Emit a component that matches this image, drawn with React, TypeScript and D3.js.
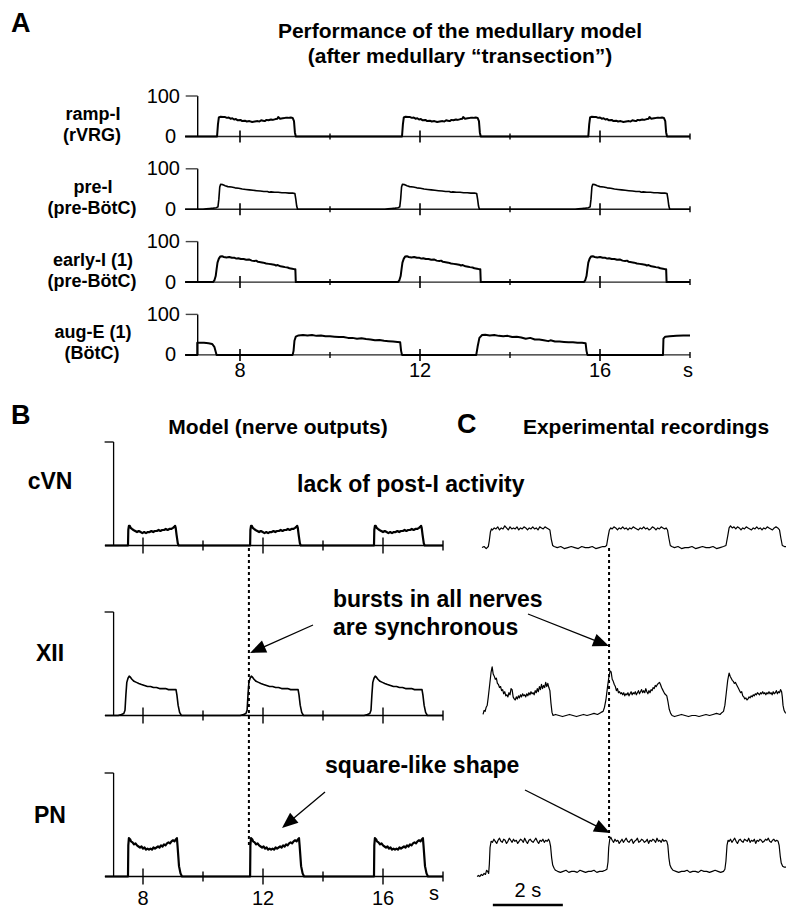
import React from "react";
import * as d3 from "d3";

type P = [number, number];

// ---------------- Panel A data ----------------
const panelATitle = ["Performance of the medullary model", "(after medullary \u201Ctransection\u201D)"];
const panelARowNames = [
  ["ramp-I", "(rVRG)"],
  ["pre-I", "(pre-BötC)"],
  ["early-I (1)", "(pre-BötC)"],
  ["aug-E (1)", "(BötC)"],
];
const panelAYTicks = [0, 100];
const panelAMajorTicks = [8, 12, 16];
const panelAMinorTicks = [10, 14, 18];
const timeUnit = "s";

const rampIOnsets = [7.49, 11.6, 15.74];
const rampIShape: P[] = [
  [0, 0], [0.02, 30], [0.04, 47], [0.08, 49], [0.13, 48], [0.18, 48], [0.22, 46], [0.26, 47], [0.3, 44],
  [0.34, 45], [0.38, 42], [0.42, 43], [0.46, 40], [0.52, 41], [0.56, 38], [0.62, 39], [0.66, 37],
  [0.72, 38], [0.78, 36], [0.84, 37], [0.9, 38], [0.94, 37], [0.98, 40], [1.02, 39], [1.06, 38],
  [1.1, 41], [1.14, 40], [1.2, 42], [1.24, 41], [1.3, 43], [1.34, 44], [1.36, 48], [1.4, 44],
  [1.46, 45], [1.52, 46], [1.58, 46], [1.64, 47], [1.68, 46], [1.71, 38], [1.73, 10], [1.75, 0],
];
const preIOnsets = [7.53, 11.57, 15.8];
const preIShape: P[] = [
  [-0.35, 0], [-0.28, 1], [-0.2, 2], [-0.12, 3], [-0.06, 4], [-0.02, 6], [0, 25], [0.02, 55], [0.04, 62],
  [0.08, 61], [0.14, 58], [0.2, 56], [0.28, 55], [0.36, 53], [0.44, 52], [0.52, 50], [0.6, 49],
  [0.68, 48], [0.76, 47], [0.84, 46], [0.92, 45], [1.0, 44], [1.08, 44], [1.12, 42], [1.16, 43],
  [1.24, 42], [1.32, 42], [1.4, 41], [1.48, 41], [1.56, 40], [1.64, 40], [1.69, 39], [1.71, 25],
  [1.73, 8], [1.75, 0],
];
const earlyIOnsets = [7.4, 11.51, 15.64];
const earlyIShape: P[] = [
  [0, 0], [0.03, 4], [0.06, 15], [0.08, 32], [0.1, 48], [0.13, 58], [0.16, 63], [0.2, 64], [0.24, 62],
  [0.3, 61], [0.36, 62], [0.42, 60], [0.48, 60], [0.52, 58], [0.56, 59], [0.62, 57], [0.68, 57],
  [0.74, 55], [0.8, 56], [0.86, 53], [0.92, 52], [0.96, 53], [1.0, 50], [1.06, 49], [1.12, 48],
  [1.18, 46], [1.24, 45], [1.3, 44], [1.36, 43], [1.4, 41], [1.44, 42], [1.5, 39], [1.56, 38],
  [1.6, 37], [1.66, 36], [1.7, 34], [1.76, 33], [1.8, 32], [1.83, 32], [1.84, 0],
];
const augETrace: P[] = [
  [6.78, 0], [7.05, 0], [7.05, 30], [7.2, 30], [7.3, 29], [7.38, 27], [7.43, 20], [7.46, 8], [7.48, 0],
  [9.17, 0], [9.19, 10], [9.21, 35], [9.24, 45], [9.3, 48], [9.4, 49], [9.5, 48], [9.6, 49], [9.7, 47],
  [9.8, 48], [9.9, 46], [10.0, 46], [10.1, 45], [10.2, 44], [10.3, 44], [10.4, 42], [10.5, 42],
  [10.6, 40], [10.7, 41], [10.8, 39], [10.9, 38], [11.0, 36], [11.1, 37], [11.2, 35], [11.3, 34],
  [11.4, 33], [11.5, 32], [11.56, 31], [11.58, 10], [11.6, 0],
  [13.25, 0], [13.28, 20], [13.32, 42], [13.38, 49], [13.45, 50], [13.55, 48], [13.65, 49], [13.75, 47],
  [13.85, 46], [13.95, 47], [14.05, 44], [14.15, 45], [14.25, 43], [14.35, 40], [14.45, 42], [14.55, 38],
  [14.65, 38], [14.75, 36], [14.85, 34], [14.9, 36], [15.0, 33], [15.1, 33], [15.2, 32], [15.3, 31],
  [15.4, 31], [15.5, 30], [15.6, 30], [15.68, 29], [15.7, 10], [15.72, 0],
  [17.4, 0], [17.41, 40], [17.45, 45], [17.55, 46], [17.7, 47], [17.85, 48], [18.0, 48],
];

// ---------------- Panel B data ----------------
const panelBRowNames = ["cVN", "XII", "PN"];
const panelBMajorTicks = [8, 12, 16];
const panelBMinorTicks = [10, 14, 18];
const modelOnsets = [7.5, 11.57, 15.7];
const cvnShape: P[] = [
  [0, 0], [0.01, 15], [0.03, 19], [0.06, 19], [0.09, 17], [0.13, 16], [0.18, 15], [0.24, 14], [0.3, 13],
  [0.36, 14], [0.42, 13], [0.48, 12], [0.54, 13], [0.6, 12], [0.66, 13], [0.72, 13], [0.78, 14],
  [0.84, 13], [0.9, 14], [0.96, 14], [1.02, 15], [1.08, 14], [1.14, 15], [1.2, 15], [1.26, 16],
  [1.32, 15], [1.38, 16], [1.44, 16], [1.5, 17], [1.54, 18], [1.57, 19], [1.59, 17], [1.62, 10],
  [1.66, 2], [1.69, 0],
];
const xiiShape: P[] = [
  [-0.33, 0], [-0.22, 1], [-0.14, 2], [-0.1, 5], [-0.07, 20], [-0.04, 32], [0, 36], [0.04, 38],
  [0.08, 37], [0.13, 35], [0.2, 33], [0.28, 32], [0.36, 31], [0.45, 30], [0.55, 29], [0.65, 28],
  [0.75, 28], [0.85, 27], [0.95, 27], [1.05, 26], [1.15, 26], [1.25, 26], [1.35, 25], [1.45, 25],
  [1.55, 25], [1.6, 25], [1.63, 20], [1.67, 10], [1.72, 3], [1.78, 0],
];
const pnShape: P[] = [
  [0, 0], [0.01, 30], [0.03, 37], [0.07, 36], [0.1, 34], [0.15, 33], [0.2, 31], [0.25, 32], [0.3, 30],
  [0.35, 29], [0.4, 28], [0.45, 29], [0.5, 27], [0.55, 28], [0.6, 26], [0.65, 27], [0.7, 26],
  [0.75, 27], [0.8, 26], [0.85, 28], [0.9, 27], [0.95, 28], [1.0, 29], [1.05, 28], [1.1, 30],
  [1.15, 29], [1.2, 31], [1.25, 30], [1.3, 32], [1.35, 33], [1.4, 32], [1.45, 34], [1.5, 35],
  [1.55, 34], [1.6, 36], [1.63, 37], [1.65, 30], [1.7, 10], [1.75, 3], [1.8, 0],
];

// ---------------- Panel C data (experimental recordings, seconds) ----------------
const cvnRecording: P[] = [
  [0, -2], [0.06, -1], [0.12, -3], [0.18, -1], [0.21, 5], [0.24, 13], [0.27, 16],
  [0.3, 15], [0.35, 17], [0.4, 16], [0.45, 18], [0.5, 15], [0.55, 17], [0.6, 16], [0.65, 19], [0.7, 17],
  [0.75, 15], [0.8, 18], [0.85, 16], [0.9, 17], [0.95, 16], [1.0, 18], [1.05, 15], [1.1, 17], [1.15, 16],
  [1.2, 18], [1.25, 17], [1.3, 15], [1.35, 17], [1.4, 16], [1.45, 18], [1.5, 16], [1.55, 17], [1.6, 15],
  [1.65, 18], [1.7, 17], [1.75, 16], [1.8, 18], [1.85, 17], [1.9, 16],
  [1.94, 15], [1.98, 6], [2.02, 0], [2.06, -1],
  [2.15, -2], [2.25, -1], [2.35, -3], [2.45, -2], [2.55, -1], [2.65, -2], [2.75, -3], [2.85, -1],
  [2.95, -2], [3.05, -2], [3.15, -1], [3.25, -3], [3.35, -2], [3.45, -1], [3.52, -1],
  [3.56, 0], [3.6, 8], [3.64, 15], [3.68, 17],
  [3.72, 16], [3.77, 18], [3.82, 17], [3.87, 15], [3.92, 17], [3.97, 16], [4.02, 18], [4.07, 16],
  [4.12, 17], [4.17, 15], [4.22, 17], [4.27, 16], [4.32, 18], [4.37, 17], [4.42, 16], [4.47, 15],
  [4.52, 17], [4.57, 16], [4.62, 18], [4.67, 16], [4.72, 17], [4.77, 15], [4.82, 16], [4.87, 18],
  [4.92, 17], [4.97, 15], [5.02, 17], [5.07, 16], [5.12, 18], [5.17, 17], [5.22, 16], [5.26, 17],
  [5.3, 15], [5.34, 7], [5.38, 0], [5.42, -1],
  [5.5, -2], [5.6, -1], [5.7, -3], [5.8, -2], [5.9, -2], [6.0, -1], [6.1, -3], [6.2, -2], [6.3, -1],
  [6.4, -2], [6.5, -2], [6.6, -1], [6.7, -3], [6.8, -2], [6.9, -1],
  [6.97, 0], [7.02, 9], [7.06, 17], [7.1, 19],
  [7.15, 17], [7.2, 18], [7.25, 16], [7.3, 18], [7.35, 17], [7.4, 15], [7.45, 17], [7.5, 16], [7.55, 18],
  [7.6, 17], [7.65, 16], [7.7, 15], [7.75, 17], [7.8, 16], [7.85, 18], [7.9, 16], [7.95, 17], [8.0, 15],
  [8.05, 17], [8.1, 16], [8.15, 18], [8.2, 17], [8.25, 16], [8.3, 15], [8.35, 17], [8.4, 18], [8.45, 17],
  [8.5, 15], [8.54, 7], [8.58, 0], [8.64, -1], [8.69, -1],
];
const xiiRecording: P[] = [
  [0.03, 1], [0.06, 5], [0.09, 4], [0.12, 8], [0.15, 10], [0.18, 18], [0.22, 30], [0.26, 42], [0.29, 47],
  [0.32, 40], [0.35, 38], [0.38, 35], [0.41, 36], [0.44, 31], [0.47, 30], [0.5, 27], [0.53, 28],
  [0.56, 24], [0.59, 25], [0.62, 21], [0.65, 23], [0.68, 19], [0.71, 20], [0.74, 18], [0.77, 22],
  [0.8, 20], [0.83, 26], [0.86, 25], [0.89, 18], [0.92, 16], [0.95, 15], [0.98, 18], [1.01, 16],
  [1.04, 19], [1.07, 17], [1.1, 20], [1.13, 18], [1.16, 21], [1.19, 19], [1.22, 20], [1.25, 18],
  [1.28, 21], [1.31, 19], [1.34, 22], [1.37, 20], [1.4, 23], [1.43, 21], [1.46, 22], [1.49, 20],
  [1.52, 24], [1.55, 22], [1.58, 26], [1.61, 23], [1.64, 28], [1.67, 25], [1.7, 30], [1.73, 26],
  [1.76, 29], [1.79, 27], [1.82, 32], [1.85, 28], [1.88, 31], [1.91, 27], [1.94, 24], [1.97, 12],
  [2.0, 3], [2.03, 0], [2.1, 1], [2.2, 0], [2.3, -1], [2.4, 0], [2.5, 1], [2.6, 0], [2.7, -1], [2.8, 0],
  [2.9, 1], [3.0, 0], [3.1, 1], [3.2, 2], [3.3, 1], [3.4, 3], [3.46, 4], [3.5, 8], [3.54, 15],
  [3.58, 26], [3.62, 36], [3.66, 43], [3.69, 42], [3.72, 35], [3.75, 33], [3.78, 30], [3.81, 28],
  [3.84, 24], [3.87, 26], [3.9, 22], [3.93, 23], [3.96, 21], [3.99, 22], [4.02, 20], [4.05, 22],
  [4.08, 19], [4.11, 21], [4.14, 20], [4.17, 22], [4.2, 19], [4.23, 21], [4.26, 23], [4.29, 20],
  [4.32, 22], [4.35, 21], [4.38, 23], [4.41, 20], [4.44, 22], [4.47, 24], [4.5, 21], [4.53, 23],
  [4.56, 25], [4.59, 22], [4.62, 24], [4.65, 22], [4.68, 26], [4.71, 23], [4.74, 21], [4.77, 24],
  [4.8, 22], [4.83, 25], [4.86, 24], [4.89, 27], [4.92, 26], [4.95, 29], [4.98, 28], [5.01, 30],
  [5.04, 31], [5.07, 32], [5.1, 30], [5.13, 27], [5.16, 25], [5.19, 23], [5.22, 21], [5.25, 20],
  [5.28, 19], [5.31, 14], [5.35, 6], [5.39, 2], [5.43, 0], [5.5, -1], [5.6, 0], [5.7, 1], [5.8, 0],
  [5.9, -1], [6.0, 0], [6.1, 0], [6.2, -1], [6.3, 0], [6.4, 1], [6.5, 0], [6.6, 1], [6.7, 2], [6.8, 1],
  [6.86, 3], [6.9, 4], [6.94, 10], [6.98, 22], [7.02, 34], [7.06, 41], [7.09, 38], [7.12, 36],
  [7.15, 34], [7.18, 33], [7.21, 31], [7.24, 32], [7.27, 30], [7.3, 28], [7.33, 26], [7.36, 24],
  [7.39, 22], [7.42, 23], [7.45, 19], [7.48, 18], [7.51, 16], [7.54, 17], [7.57, 15], [7.6, 16],
  [7.63, 18], [7.66, 17], [7.69, 19], [7.72, 18], [7.75, 20], [7.78, 19], [7.81, 21], [7.84, 20],
  [7.87, 22], [7.9, 21], [7.93, 20], [7.96, 22], [7.99, 21], [8.02, 23], [8.05, 21], [8.08, 22],
  [8.11, 20], [8.14, 22], [8.17, 21], [8.2, 23], [8.23, 21], [8.26, 22], [8.29, 20], [8.32, 23],
  [8.35, 21], [8.38, 22], [8.41, 24], [8.44, 21], [8.47, 23], [8.5, 22], [8.53, 25], [8.56, 23],
  [8.58, 18], [8.6, 10], [8.63, 5], [8.66, 3], [8.69, 2],
];
const pnRecording: P[] = [
  [-0.14, 0], [-0.1, 1], [-0.06, 0], [-0.02, 2], [0.02, 1], [0.06, 3], [0.1, 2], [0.13, 6], [0.16, 5],
  [0.19, 3], [0.21, 12], [0.23, 28], [0.26, 34],
  [0.3, 33], [0.34, 36], [0.38, 34], [0.42, 32], [0.46, 35], [0.5, 37], [0.54, 34], [0.58, 33], [0.62, 36],
  [0.66, 35], [0.7, 32], [0.74, 34], [0.78, 37], [0.82, 35], [0.86, 33], [0.9, 36], [0.94, 34], [0.98, 35],
  [1.02, 32], [1.06, 34], [1.1, 36], [1.14, 35], [1.18, 33], [1.22, 37], [1.26, 34], [1.3, 32], [1.34, 35],
  [1.38, 36], [1.42, 34], [1.46, 33], [1.5, 35], [1.54, 37], [1.58, 34], [1.62, 32], [1.66, 35], [1.7, 34],
  [1.74, 36], [1.78, 33], [1.82, 35], [1.86, 34], [1.9, 36], [1.93, 34],
  [1.96, 29], [1.99, 18], [2.02, 11], [2.06, 8], [2.1, 6], [2.16, 5],
  [2.24, 4], [2.32, 5], [2.4, 6], [2.48, 4], [2.56, 5], [2.64, 5], [2.72, 4], [2.8, 6], [2.88, 5],
  [2.96, 4], [3.04, 5], [3.12, 5], [3.2, 6], [3.28, 4], [3.36, 5], [3.44, 5], [3.52, 6],
  [3.57, 7], [3.6, 14], [3.62, 28], [3.65, 36],
  [3.68, 38], [3.72, 35], [3.76, 33], [3.8, 36], [3.84, 34], [3.88, 35], [3.92, 32], [3.96, 34], [4.0, 36],
  [4.04, 33], [4.08, 35], [4.12, 37], [4.16, 34], [4.2, 33], [4.24, 35], [4.28, 36], [4.32, 32], [4.36, 34],
  [4.4, 35], [4.44, 37], [4.48, 33], [4.52, 34], [4.56, 36], [4.6, 35], [4.64, 33], [4.68, 34], [4.72, 36],
  [4.76, 32], [4.8, 35], [4.84, 34], [4.88, 36], [4.92, 35], [4.96, 33], [5.0, 37], [5.04, 34], [5.08, 35],
  [5.12, 33], [5.16, 36], [5.2, 34], [5.24, 35], [5.28, 34],
  [5.31, 30], [5.34, 18], [5.37, 11], [5.41, 8], [5.46, 6],
  [5.54, 5], [5.62, 4], [5.7, 5], [5.78, 5], [5.86, 6], [5.94, 4], [6.02, 5], [6.1, 5], [6.18, 4],
  [6.26, 6], [6.34, 5], [6.42, 5], [6.5, 4], [6.58, 5], [6.66, 6], [6.74, 5], [6.82, 4], [6.9, 5],
  [6.94, 7], [6.97, 15], [7.0, 30], [7.03, 35],
  [7.06, 34], [7.1, 36], [7.14, 33], [7.18, 35], [7.22, 37], [7.26, 34], [7.3, 32], [7.34, 35], [7.38, 36],
  [7.42, 34], [7.46, 33], [7.5, 36], [7.54, 35], [7.58, 34], [7.62, 37], [7.66, 33], [7.7, 35], [7.74, 34],
  [7.78, 36], [7.82, 32], [7.86, 35], [7.9, 34], [7.94, 36], [7.98, 35], [8.02, 33], [8.06, 34], [8.1, 36],
  [8.14, 35], [8.18, 37], [8.22, 34], [8.26, 33], [8.3, 35], [8.34, 36], [8.38, 34], [8.42, 35], [8.46, 34],
  [8.49, 30], [8.52, 20], [8.55, 13], [8.59, 10], [8.64, 9], [8.69, 9],
];
const scaleBarSeconds = 2;
const syncTimeModel = 11.53;
const syncTimeRecording = 3.63;

const annotations = {
  lack: "lack of post-I activity",
  sync1: "bursts in all nerves",
  sync2: "are synchronous",
  square: "square-like shape",
};

// ---------------- helpers ----------------
const FONT = "'Liberation Sans', Arial, Helvetica, sans-serif";

function fromTemplate(onsets: number[], shape: P[], t0: number, t1: number): P[] {
  const pts: P[] = [[t0, 0]];
  onsets.forEach((o) => shape.forEach(([dt, v]) => pts.push([o + dt, v])));
  pts.push([t1, 0]);
  return pts;
}

function Arrow({ x1, y1, x2, y2 }: { x1: number; y1: number; x2: number; y2: number }) {
  const a = Math.atan2(y2 - y1, x2 - x1);
  const len = 16, half = 6.5;
  const bx = x2 - len * Math.cos(a), by = y2 - len * Math.sin(a);
  const px = -Math.sin(a) * half, py = Math.cos(a) * half;
  return (
    <g>
      <line x1={x1} y1={y1} x2={bx + Math.cos(a) * 2} y2={by + Math.sin(a) * 2} stroke="#000" strokeWidth={1.3} />
      <path d={`M${x2},${y2}L${bx + px},${by + py}L${bx - px},${by - py}Z`} fill="#000" />
    </g>
  );
}

export default function App() {
  // Panel A scales
  const xA = d3.scaleLinear().domain([8, 16]).range([240, 600]);
  const aTops = [96, 168.8, 241.6, 314.4];
  const aH = 40.5;
  const aStart = 6.78, aEnd = 18, aYAxisT = 7.06;
  const aTraces: P[][] = [
    fromTemplate(rampIOnsets, rampIShape, aStart, aEnd),
    fromTemplate(preIOnsets, preIShape, aStart, aEnd),
    fromTemplate(earlyIOnsets, earlyIShape, aStart, aEnd),
    augETrace,
  ];

  // Panel B/C scales
  const xB = d3.scaleLinear().domain([8, 16]).range([143, 383]);
  const xC = d3.scaleLinear().domain([0, 2]).range([482, 552]);
  const bTops = [442, 612, 773];
  const bH = 103.5;
  const bStart = 6.73, bEnd = 18, bYAxisT = 7.02;
  const bTraces: P[][] = [
    fromTemplate(modelOnsets, cvnShape, bStart, bEnd),
    fromTemplate(modelOnsets, xiiShape, bStart, bEnd),
    fromTemplate(modelOnsets, pnShape, bStart, bEnd),
  ];
  const cTraces: P[][] = [cvnRecording, xiiRecording, pnRecording];

  const rowScale = (top: number, h: number) => d3.scaleLinear().domain([0, 100]).range([top + h, top]);

  return (
    <svg width={786} height={909} style={{ position: "absolute", left: 0, top: 0, background: "#fff" }}
      fontFamily={FONT}>
      <rect x={0} y={0} width={786} height={909} fill="#fff" />
      {/* ---------- Panel A ---------- */}
      <text x={11} y={32} fontSize={27} fontWeight="bold">A</text>
      <text x={460} y={38} fontSize={21} fontWeight="bold" textAnchor="middle">{panelATitle[0]}</text>
      <text x={460} y={63} fontSize={21} fontWeight="bold" textAnchor="middle">{panelATitle[1]}</text>
      {aTops.map((top, i) => {
        const y = rowScale(top, aH);
        const line = d3.line<P>().x((d) => xA(d[0])).y((d) => y(d[1]));
        const base = y(0);
        const yx = xA(aYAxisT);
        return (
          <g key={"a" + i}>
            <text x={93} y={top + 24} fontSize={18} fontWeight="bold" textAnchor="middle">{panelARowNames[i][0]}</text>
            <text x={92} y={top + 45} fontSize={18} fontWeight="bold" textAnchor="middle">{panelARowNames[i][1]}</text>
            <text x={180} y={y(panelAYTicks[1]) + 6.5} fontSize={20} textAnchor="end">{panelAYTicks[1]}</text>
            <text x={176} y={y(panelAYTicks[0]) + 6.5} fontSize={20} textAnchor="end">{panelAYTicks[0]}</text>
            <line x1={xA(aStart)} x2={xA(aEnd)} y1={base} y2={base} stroke="#222" strokeWidth={1.4} />
            <line x1={yx} x2={yx} y1={base} y2={y(100)} stroke="#000" strokeWidth={1.4} />
            <line x1={yx - 12} x2={yx} y1={y(100)} y2={y(100)} stroke="#444" strokeWidth={1.4} />
            {panelAMajorTicks.map((t) => (
              <line key={t} x1={xA(t)} x2={xA(t)} y1={base - 6} y2={base + 6} stroke="#000" strokeWidth={1.6} />
            ))}
            {panelAMinorTicks.map((t) => (
              <line key={t} x1={xA(t)} x2={xA(t)} y1={base - 3} y2={base + 3} stroke="#000" strokeWidth={1.4} />
            ))}
            <path d={line(aTraces[i]) || ""} fill="none" stroke="#000" strokeWidth={i === 1 ? 1.6 : 2}
              strokeLinejoin="round" />
            {i === 3 && panelAMajorTicks.map((t) => (
              <text key={"l" + t} x={xA(t)} y={377} fontSize={20} textAnchor="middle">{t}</text>
            ))}
            {i === 3 && <text x={xA(aEnd) - 2} y={377} fontSize={20} textAnchor="middle">{timeUnit}</text>}
          </g>
        );
      })}

      {/* ---------- Panel B & C headers ---------- */}
      <text x={11} y={424} fontSize={27} fontWeight="bold">B</text>
      <text x={278} y={434} fontSize={21} fontWeight="bold" textAnchor="middle">Model (nerve outputs)</text>
      <text x={457} y={433} fontSize={27} fontWeight="bold">C</text>
      <text x={646} y={434} fontSize={21} fontWeight="bold" textAnchor="middle">Experimental recordings</text>

      {bTops.map((top, i) => {
        const y = rowScale(top, bH);
        const lineB = d3.line<P>().x((d) => xB(d[0])).y((d) => y(d[1]));
        const lineC = d3.line<P>().x((d) => xC(d[0])).y((d) => y(d[1]));
        const base = y(0);
        const yx = xB(bYAxisT);
        return (
          <g key={"b" + i}>
            <text x={50} y={[489, 661, 823][i]} fontSize={23} fontWeight="bold" textAnchor="middle">{panelBRowNames[i]}</text>
            <line x1={xB(bStart)} x2={xB(bEnd)} y1={base} y2={base} stroke="#000" strokeWidth={1.5} />
            <line x1={yx} x2={yx} y1={base} y2={y(100)} stroke="#000" strokeWidth={1.3} />
            <line x1={yx - 9} x2={yx} y1={y(100)} y2={y(100)} stroke="#000" strokeWidth={1.3} />
            {panelBMajorTicks.map((t) => (
              <line key={t} x1={xB(t)} x2={xB(t)} y1={base - 8} y2={base + 8} stroke="#000" strokeWidth={1.4} />
            ))}
            {panelBMinorTicks.map((t) => (
              <line key={t} x1={xB(t)} x2={xB(t)} y1={base - 5} y2={base + 5} stroke="#000" strokeWidth={1.4} />
            ))}
            <path d={lineB(bTraces[i]) || ""} fill="none" stroke="#000" strokeWidth={i === 1 ? 1.6 : 2.2}
              strokeLinejoin="round" />
            <path d={lineC(cTraces[i]) || ""} fill="none" stroke="#000" strokeWidth={1.2} strokeLinejoin="round" />
            {i === 2 && panelBMajorTicks.map((t) => (
              <text key={"l" + t} x={xB(t)} y={905} fontSize={20} textAnchor="middle">{t}</text>
            ))}
            {i === 2 && <text x={xB(bEnd) - 9} y={900} fontSize={20} textAnchor="middle">{timeUnit}</text>}
          </g>
        );
      })}

      {/* dotted synchrony lines */}
      <line x1={xB(syncTimeModel)} x2={xB(syncTimeModel)} y1={548} y2={846} stroke="#000" strokeWidth={2}
        strokeDasharray="3 3" />
      <line x1={xC(syncTimeRecording)} x2={xC(syncTimeRecording)} y1={548} y2={838} stroke="#000" strokeWidth={2}
        strokeDasharray="3 3" />

      {/* scale bar */}
      <line x1={xC(0.31)} x2={xC(0.31 + scaleBarSeconds)} y1={905} y2={905} stroke="#000" strokeWidth={2.5} />
      <text x={xC(0.31 + scaleBarSeconds / 2)} y={897} fontSize={20} textAnchor="middle">{scaleBarSeconds} s</text>

      {/* annotations */}
      <text x={297} y={492} fontSize={23} fontWeight="bold">{annotations.lack}</text>
      <text x={333} y={607} fontSize={23} fontWeight="bold">{annotations.sync1}</text>
      <text x={333} y={635} fontSize={23} fontWeight="bold">{annotations.sync2}</text>
      <text x={325} y={773} fontSize={23} fontWeight="bold">{annotations.square}</text>
      <Arrow x1={313} y1={625} x2={250} y2={653} />
      <Arrow x1={528} y1={614} x2={609} y2={646} />
      <Arrow x1={325} y1={792} x2={282} y2={828} />
      <Arrow x1={525} y1={790} x2={610} y2={833} />
    </svg>
  );
}
